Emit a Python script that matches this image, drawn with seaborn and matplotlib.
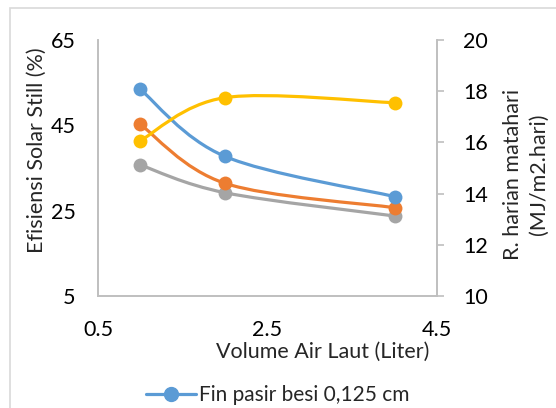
import numpy as np
import seaborn as sns
import matplotlib.pyplot as plt
from matplotlib.path import Path
from matplotlib.patches import PathPatch, Rectangle
from matplotlib.lines import Line2D

# === data ===
volume = [1, 2, 4]
eff_a = [53.4, 37.7, 28.3]   # blue, Fin pasir besi 0,125 cm
eff_b = [45.2, 31.4, 25.7]   # orange
eff_c = [35.7, 29.2, 23.75]  # gray
radiasi = [16.07, 17.75, 17.55]  # yellow, right axis

BLUE, ORANGE, GRAY, YELLOW = "#5B9BD5", "#ED7D31", "#A5A5A5", "#FFC000"

sns.set_theme(style="white")
plt.rcParams["font.family"] = ["Lato", "DejaVu Sans"]

W, H = 556, 408


def smooth_line(ax, xs, ys, color):
    # Excel-like smoothed line: bezier segments through the data points
    p = np.column_stack([xs, ys]).astype(float)
    pts = np.vstack([p[0], p, p[-1]])
    verts, codes = [tuple(p[0])], [Path.MOVETO]
    for i in range(1, len(pts) - 2):
        c1 = pts[i] + (pts[i + 1] - pts[i - 1]) / 6
        c2 = pts[i + 1] - (pts[i + 2] - pts[i]) / 6
        verts += [tuple(c1), tuple(c2), tuple(pts[i + 1])]
        codes += [Path.CURVE4] * 3
    ax.add_patch(PathPatch(Path(verts, codes), fill=False, edgecolor=color,
                           lw=2.3, capstyle="round", zorder=2))


fig = plt.figure(figsize=(W / 100, H / 100), dpi=100)
ax = fig.add_axes([98 / W, 1 - 296 / H, 339 / W, 256 / H])
ax2 = ax.twinx()

for ys, c in [(eff_c, GRAY), (eff_b, ORANGE), (eff_a, BLUE)]:
    smooth_line(ax, volume, ys, c)
    sns.scatterplot(x=volume, y=ys, ax=ax, color=c, s=100, edgecolor=c,
                    linewidth=0, zorder=3, legend=False)
smooth_line(ax2, volume, radiasi, YELLOW)
sns.scatterplot(x=volume, y=radiasi, ax=ax2, color=YELLOW, s=100,
                edgecolor=YELLOW, linewidth=0, zorder=3, legend=False)

ax.set_xlim(0.5, 4.5)
ax.set_ylim(5, 65)
ax2.set_ylim(10, 20)
ax.set_xticks([0.5, 2.5, 4.5])
ax.set_yticks([5, 25, 45, 65])
ax2.set_yticks([10, 12, 14, 16, 18, 20])

for a in (ax, ax2):
    for s in a.spines.values():
        s.set_color("#BFBFBF")
        s.set_linewidth(1.2)
    a.spines["top"].set_visible(False)
ax.tick_params(axis="both", length=0, labelsize=15.5, colors="black")
ax.tick_params(axis="x", pad=17)
ax.tick_params(axis="y", pad=16)
ax2.tick_params(axis="y", length=5, width=1.2, color="#BFBFBF", labelsize=15.5,
                labelcolor="black", pad=14, right=True, direction="out")

ax.set_ylabel("Efisiensi Solar Still (%)", fontsize=15.5)
ax2.set_ylabel("R. harian matahari\n(MJ/m2.hari)", fontsize=15.5, linespacing=1.4)
ax.set_xlabel("Volume Air Laut (Liter)", fontsize=15.5)
ax.yaxis.set_label_coords(37 / W, 1 - 150 / H, transform=fig.transFigure)
ax2.yaxis.set_label_coords(526 / W, 1 - 174 / H, transform=fig.transFigure)
ax.xaxis.set_label_coords(323 / W, 1 - 352 / H, transform=fig.transFigure)
for lab in (ax.yaxis.label, ax2.yaxis.label, ax.xaxis.label):
    lab.set_verticalalignment("center")

handle = Line2D([], [], color=BLUE, lw=2.3, marker="o", markersize=10)
fig.legend([handle], ["Fin pasir besi 0,125 cm"], loc="center",
           bbox_to_anchor=(0.5, 1 - 395 / H), frameon=False, fontsize=15,
           handlelength=2.4, handletextpad=0.15)

# chart area border (cropped in the reference)
fig.patches.append(Rectangle((10 / W, -0.2), 1.2, 1.2 - 8 / H,
                             transform=fig.transFigure, fill=False,
                             edgecolor="#D9D9D9", lw=1.2))

fig.savefig("out.png", dpi=100)
